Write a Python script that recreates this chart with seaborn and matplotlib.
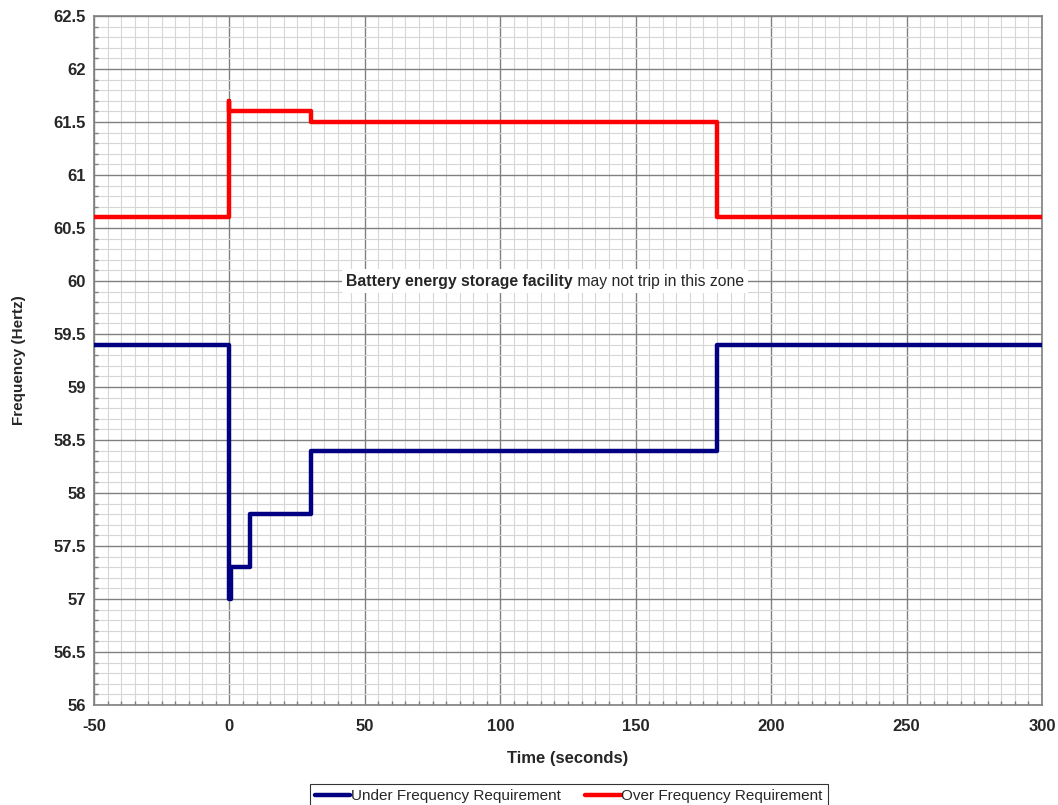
import numpy as np
import pandas as pd
import seaborn as sns
import matplotlib.pyplot as plt
from matplotlib.ticker import MultipleLocator

# under frequency ride-through curve (seconds, Hz)
under_time = [-50, 0, 0, 0.5, 0.5, 7.5, 7.5, 30, 30, 180, 180, 300]
under_freq = [59.4, 59.4, 57.0, 57.0, 57.3, 57.3, 57.8, 57.8, 58.4, 58.4, 59.4, 59.4]

# over frequency ride-through curve
over_time = [-50, 0, 0, 0, 30, 30, 180, 180, 300]
over_freq = [60.6, 60.6, 61.7, 61.6, 61.6, 61.5, 61.5, 60.6, 60.6]

x_ticks = [-50, 0, 50, 100, 150, 200, 250, 300]
y_ticks = [56, 56.5, 57, 57.5, 58, 58.5, 59, 59.5, 60, 60.5, 61, 61.5, 62, 62.5]

sns.set_style("white")
plt.rcParams['font.family'] = ['Liberation Sans', 'DejaVu Sans']
plt.rcParams['axes.unicode_minus'] = False

df_under = pd.DataFrame({'t': under_time, 'f': under_freq})
df_over = pd.DataFrame({'t': over_time, 'f': over_freq})

fig = plt.figure(figsize=(10.58, 8.05), dpi=100)
ax = fig.add_axes([94 / 1058, 1 - 705 / 805, (1042 - 94) / 1058, (705 - 16) / 805])

sns.lineplot(data=df_under, x='t', y='f', sort=False, estimator=None, ax=ax,
             color='#000080', linewidth=3.2, label='Under Frequency Requirement', zorder=4)
sns.lineplot(data=df_over, x='t', y='f', sort=False, estimator=None, ax=ax,
             color='#ff0000', linewidth=3.2, label='Over Frequency Requirement', zorder=4)

ax.set_xlim(-50, 300)
ax.set_ylim(56, 62.5)
ax.set_xticks(x_ticks)
ax.set_yticks(y_ticks)
ax.set_yticklabels([f"{v:g}" for v in y_ticks])
ax.xaxis.set_minor_locator(MultipleLocator(5))
ax.yaxis.set_minor_locator(MultipleLocator(0.1))

ax.grid(which='minor', color='#d6d6d6', linewidth=0.8, zorder=0)
ax.grid(which='major', color='#808080', linewidth=1.0, zorder=1)
ax.set_axisbelow(True)

for s in ax.spines.values():
    s.set_color('#808080')
    s.set_linewidth(1.2)

ax.tick_params(which='major', direction='out', length=4, color='#808080', width=1,
               labelsize=12)
ax.tick_params(axis='x', which='major', pad=6)
ax.tick_params(axis='y', which='major', pad=2)
ax.tick_params(which='minor', direction='in', length=3, color='#808080', width=1)
ax.tick_params(which='minor', bottom=True, left=True)
for lbl in ax.get_xticklabels() + ax.get_yticklabels():
    lbl.set_fontweight('bold')

ax.set_xlabel('Time (seconds)', fontsize=12, fontweight='bold', labelpad=12)
ax.set_ylabel('Frequency (Hertz)', fontsize=11, fontweight='bold', labelpad=20)

t1 = ax.text(43, 60, 'Battery energy storage facility', fontsize=11.3, fontweight='bold',
             ha='left', va='center', zorder=6,
             bbox=dict(facecolor='white', edgecolor='none', pad=3))
ax.annotate(' may not trip in this zone', xy=(1, 0.5), xycoords=t1, va='center',
            ha='left', fontsize=11.3, zorder=5,
            bbox=dict(facecolor='white', edgecolor='none', pad=3))

handles, labels = ax.get_legend_handles_labels()
ax.get_legend().remove()
leg = fig.legend(handles, labels, loc='lower center', bbox_to_anchor=(569 / 1058, -0.004),
                 ncol=2, frameon=True, fancybox=False, fontsize=11, handlelength=2.3,
                 handletextpad=0.05, columnspacing=1.6, borderpad=0.35,
                 borderaxespad=0)
leg.get_frame().set_edgecolor('#000000')
leg.get_frame().set_linewidth(0.8)

fig.savefig('out.png', dpi=100)
